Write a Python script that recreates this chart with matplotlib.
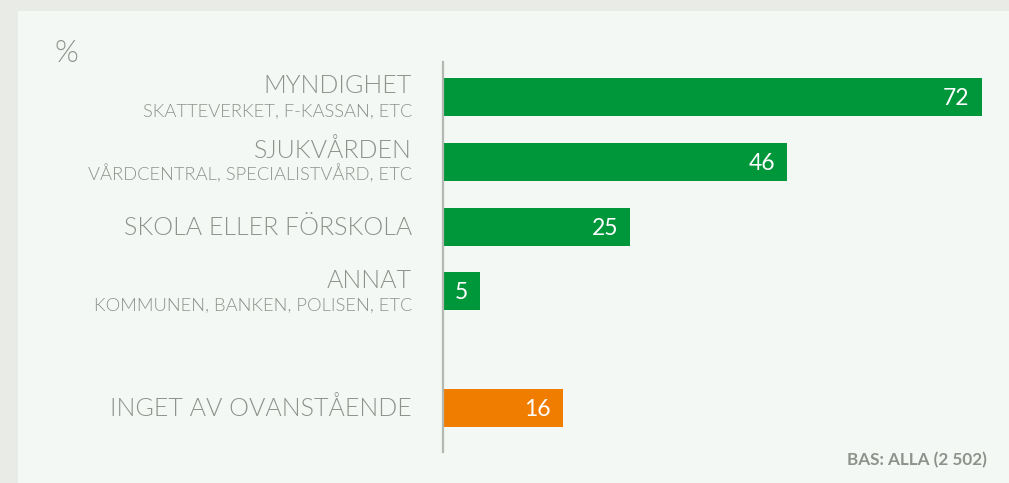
import matplotlib
matplotlib.use("Agg")
import matplotlib.pyplot as plt
from matplotlib.transforms import blended_transform_factory, offset_copy

categories = ["MYNDIGHET", "SJUKVÅRDEN", "SKOLA ELLER FÖRSKOLA", "ANNAT", "INGET AV OVANSTÅENDE"]
sublabels = ["SKATTEVERKET, F-KASSAN, ETC", "VÅRDCENTRAL, SPECIALISTVÅRD, ETC", "", "KOMMUNEN, BANKEN, POLISEN, ETC", ""]
values = [72, 46, 25, 5, 16]
positions = [0, 1, 2, 3, 4.8]
colors = ["#00963a", "#00963a", "#00963a", "#00963a", "#f07d00"]

W, H = 1009, 483
fig = plt.figure(figsize=(W / 100, H / 100), dpi=100)
fig.patch.set_facecolor("#e9ebe7")
bg = fig.add_axes([18 / W, 0, 1 - 18 / W, (H - 11) / H], zorder=-5)
bg.set_axis_off()
bg.add_patch(plt.Rectangle((0, 0), 1, 1, transform=bg.transAxes, facecolor="#f4f8f5", edgecolor="none"))

ax_left, ax_right, ax_top, ax_bot = 443, 1000, 62, 452
ax = fig.add_axes([ax_left / W, (H - ax_bot) / H, (ax_right - ax_left) / W, (ax_bot - ax_top) / H])
ax.set_facecolor("none")
ppu = 7.48
ax.set_xlim(0, (ax_right - ax_left) / ppu)
ax.set_ylim(4.8 + 44 / 65, -35 / 65)

ax.barh(positions, values, height=38 / 65, color=colors, zorder=2)
for s in ["top", "right", "bottom"]:
    ax.spines[s].set_visible(False)
ax.spines["left"].set_color("#b3b8b0")
ax.spines["left"].set_linewidth(1.6)
ax.set_xticks([])
ax.set_yticks([])

fam = ["Lato", "DejaVu Sans"]
for p, v in zip(positions, values):
    ax.annotate(str(v), (v, p), xytext=(-12 * 0.72, -8 * 0.72), textcoords="offset points",
                ha="right", va="baseline", color="white", fontsize=16.5, family=fam, zorder=3)

tr = blended_transform_factory(ax.transAxes, ax.transData)
lx = (412 - ax_left) / (ax_right - ax_left)
txtc = "#8e928b"
lw = 300
for p, c, s in zip(positions, categories, sublabels):
    if s:
        ax.text(lx, p, c, transform=offset_copy(tr, fig=fig, x=0, y=3.5, units="dots"),
                ha="right", va="baseline", fontsize=18, color=txtc, family=fam, fontweight=lw, clip_on=False)
        ax.text(lx, p, s, transform=offset_copy(tr, fig=fig, x=0, y=-19.5, units="dots"),
                ha="right", va="baseline", fontsize=13.2, color=txtc, family=fam, fontweight=lw, clip_on=False)
    else:
        ax.text(lx, p, c, transform=offset_copy(tr, fig=fig, x=0, y=-8, units="dots"),
                ha="right", va="baseline", fontsize=18, color=txtc, family=fam, fontweight=lw, clip_on=False)

fig.text(54 / W, 1 - 62 / H, "%", ha="left", va="baseline", fontsize=22, color=txtc, family=fam, fontweight=lw)
fig.text(987 / W, 1 - 465 / H, "BAS: ALLA (2 502)", ha="right", va="baseline", fontsize=12.3,
         color="#8e928b", family=fam, fontweight="bold")

fig.savefig("out.png", dpi=100, facecolor=fig.get_facecolor())
